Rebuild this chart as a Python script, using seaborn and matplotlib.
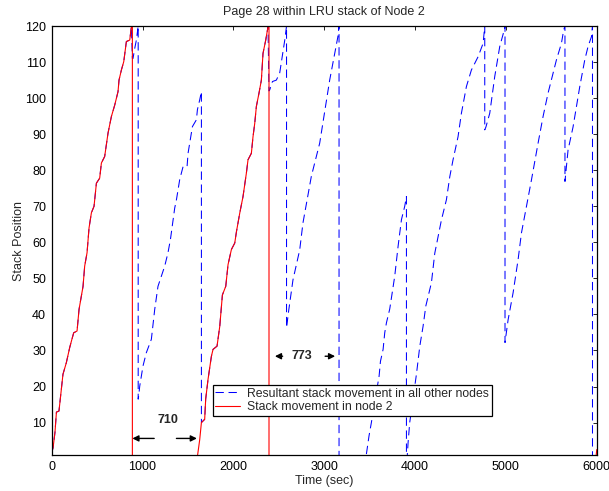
import numpy as np
import pandas as pd
import matplotlib
matplotlib.use("Agg")
import matplotlib.pyplot as plt
import seaborn as sns

# Stack movement of page 28 in node 2 (two climbs, then evicted)
node2_time_a = [0, 15, 36, 52, 80, 106, 124, 161, 198, 217, 242, 279, 301, 345, 363,
                389, 411, 437, 466, 492, 528, 547, 583, 620, 657, 694, 730, 741, 767,
                793, 822, 859, 877, 888, 888]
node2_pos_a = [1.7, 3, 7.3, 12.9, 13.2, 19.2, 23.4, 26.6, 30.8, 32.6, 34.9, 35.4, 41.4,
               47.8, 53.4, 57.1, 64, 68.2, 70, 76.4, 77.8, 82, 83.8, 90.3, 94.9, 98.1,
               101.8, 105, 107.8, 110.1, 115.7, 116.1, 119.8, 120, 0]
node2_time_b = [1590, 1604, 1629, 1648, 1684, 1695, 1721, 1758, 1776, 1820, 1850, 1879,
                1916, 1941, 1978, 2015, 2034, 2070, 2106, 2143, 2161, 2198, 2216, 2235,
                2253, 2282, 2308, 2326, 2356, 2381, 2392, 2392, 5990, 6000]
node2_pos_b = [0, 0.6, 5.2, 10, 10.9, 16.5, 22, 28.4, 30.3, 31.2, 36.7, 45.4, 47.8, 53.8,
               58, 59.8, 63, 68.1, 72.7, 79.2, 82.9, 84.7, 89.3, 93, 97.7, 101.4, 105,
               112.4, 116.1, 119.8, 120, 0, 0, 2.5]

# Resultant movement in all other nodes between node-2 climbs
others_time_a = [888, 895, 914, 932, 950, 952, 952, 958, 969, 1005, 1042, 1097, 1134,
                 1170, 1207, 1244, 1280, 1307, 1354, 1373, 1409, 1446, 1490, 1501, 1519,
                 1549, 1593, 1604, 1629, 1648, 1648]
others_pos_a = [111, 111, 113.8, 116.1, 119.8, 120, 16.5, 17.5, 20.1, 25.7, 29.4, 33.1,
                41.4, 47.8, 50.6, 53.4, 57.1, 60.8, 69.5, 71.8, 77.4, 81, 81, 84.7, 87.5,
                92.1, 94, 96.8, 99.5, 101.8, 10]
others_time_b = [2392, 2400, 2430, 2473, 2510, 2540, 2565, 2585, 2585, 2610, 2656, 2730,
                 2766, 2858, 2950, 3060, 3150, 3163, 3163, 3457, 3493, 3519, 3537, 3604,
                 3619, 3648, 3666, 3685, 3721, 3776, 3813, 3850, 3886, 3905, 3905, 3912,
                 3923, 3941, 4015, 4052, 4088, 4118, 4154, 4180, 4217, 4290, 4345, 4382,
                 4418, 4473, 4510, 4565, 4620, 4694, 4749, 4767, 4767, 4780, 4822, 4877,
                 4932, 4987, 4990, 4990, 5024, 5079, 5134, 5171, 5226, 5281, 5354, 5409,
                 5464, 5519, 5556, 5611, 5636, 5650, 5650, 5684, 5739, 5813, 5868, 5904,
                 5941, 5953, 5953, 6000]
others_pos_b = [102, 102.3, 104.6, 105, 107, 112, 116, 120, 36.3, 41.3, 49.6, 57.9, 65.4,
                78.3, 87.5, 105, 117, 120, 0, 0, 6.3, 10, 12.8, 22.9, 27, 30.3, 34.9, 37.7,
                41.5, 50.6, 58.9, 66.3, 70, 72.7, 0, 0, 4.4, 10, 23.4, 31.2, 36.7, 42.3,
                46, 48.8, 57, 66.2, 71.8, 78.2, 82.9, 89.3, 95.8, 103.2, 107.8, 111.5,
                115.2, 120, 91.2, 92, 95.8, 106, 114.3, 119.4, 120, 32.2, 38.5, 46, 55.2,
                62.6, 70, 77.3, 87.5, 94.9, 101.4, 106.9, 110.6, 115.2, 118.9, 120, 76.9,
                85.6, 92, 103.2, 110.6, 114.3, 117, 120, 0, 0]

# Gaps between node-2 eviction and the next reference (sec)
gap_labels = ["710", "773"]
gap_start = [888, 2392]
gap_end = [1598, 3165]

x_ticks = [0, 1000, 2000, 3000, 4000, 5000, 6000]
y_ticks = [10, 20, 30, 40, 50, 60, 70, 80, 90, 100, 110, 120]

sns.set_theme(style="white")
plt.rcParams["font.family"] = ["Liberation Sans", "DejaVu Sans"]
plt.rcParams.update({
    "xtick.direction": "in", "ytick.direction": "in",
    "xtick.top": True, "ytick.right": True,
    "xtick.major.size": 3, "ytick.major.size": 3,
    "xtick.major.width": 0.6, "ytick.major.width": 0.6,
    "axes.edgecolor": "black", "axes.linewidth": 0.9,
})

node2 = pd.DataFrame({
    "time": node2_time_a + node2_time_b,
    "pos": node2_pos_a + node2_pos_b,
})

# The resultant curve coincides with node 2 while node 2 is climbing
t_b = np.array(node2_time_b)
p_b = np.array(node2_pos_b)
mask = (t_b >= 1648) & (t_b <= 2381)
others = pd.DataFrame({
    "time": node2_time_a[:-2] + others_time_a + list(t_b[mask]) + others_time_b,
    "pos": node2_pos_a[:-2] + others_pos_a + list(p_b[mask]) + others_pos_b,
})

fig = plt.figure(figsize=(6.09, 4.91), dpi=100)
ax = fig.add_axes([0.0849, 0.0733, 0.895, 0.8737])

sns.lineplot(data=others, x="time", y="pos", sort=False, estimator=None, ax=ax,
             color="#0000ff", linewidth=0.75, linestyle=(0, (8, 4.5)),
             label="Resultant stack movement in all other nodes")
sns.lineplot(data=node2, x="time", y="pos", sort=False, estimator=None, ax=ax,
             color="#ff0000", linewidth=0.8,
             label="Stack movement in node 2")

ax.set_xlim(0, 6000)
ax.set_ylim(1, 120)
ax.set_xticks(x_ticks)
ax.set_yticks(y_ticks)
ax.tick_params(labelsize=9, pad=4, colors="black")
ax.set_xlabel("Time (sec)", fontsize=9, labelpad=2)
ax.set_ylabel("Stack Position", fontsize=9, labelpad=0)
ax.set_title("Page 28 within LRU stack of Node 2", fontsize=9, pad=8)

# Gap annotations with inward-pointing arrows
arrow = dict(arrowstyle="-|>", color="black", lw=1.0, mutation_scale=9,
             shrinkA=0, shrinkB=0)
ax.annotate("", xy=(gap_start[0], 5.6), xytext=(gap_start[0] + 240, 5.6), arrowprops=arrow)
ax.annotate("", xy=(gap_end[0], 5.6), xytext=(gap_end[0] - 225, 5.6), arrowprops=arrow)
ax.text((gap_start[0] + gap_end[0]) / 2 + 35, 10.7, gap_labels[0], fontsize=9,
        fontweight="bold", ha="center", va="center")
ax.annotate("", xy=(gap_start[1] + 65, 28.4), xytext=(gap_start[1] + 150, 28.4), arrowprops=arrow)
ax.annotate("", xy=(gap_end[1] - 45, 28.4), xytext=(gap_end[1] - 155, 28.4), arrowprops=arrow)
ax.text((gap_start[1] + gap_end[1]) / 2 - 20, 28.4, gap_labels[1], fontsize=9,
        fontweight="bold", ha="center", va="center")

leg = ax.legend(loc="upper left", bbox_to_anchor=(0.2954, 0.1632), borderaxespad=0,
                fontsize=8.8, frameon=True, fancybox=False, framealpha=1,
                edgecolor="black", handlelength=2.0, handletextpad=0.6,
                labelspacing=0.1, borderpad=0.22)
leg.get_frame().set_linewidth(0.9)

fig.savefig("out.png", dpi=100)
